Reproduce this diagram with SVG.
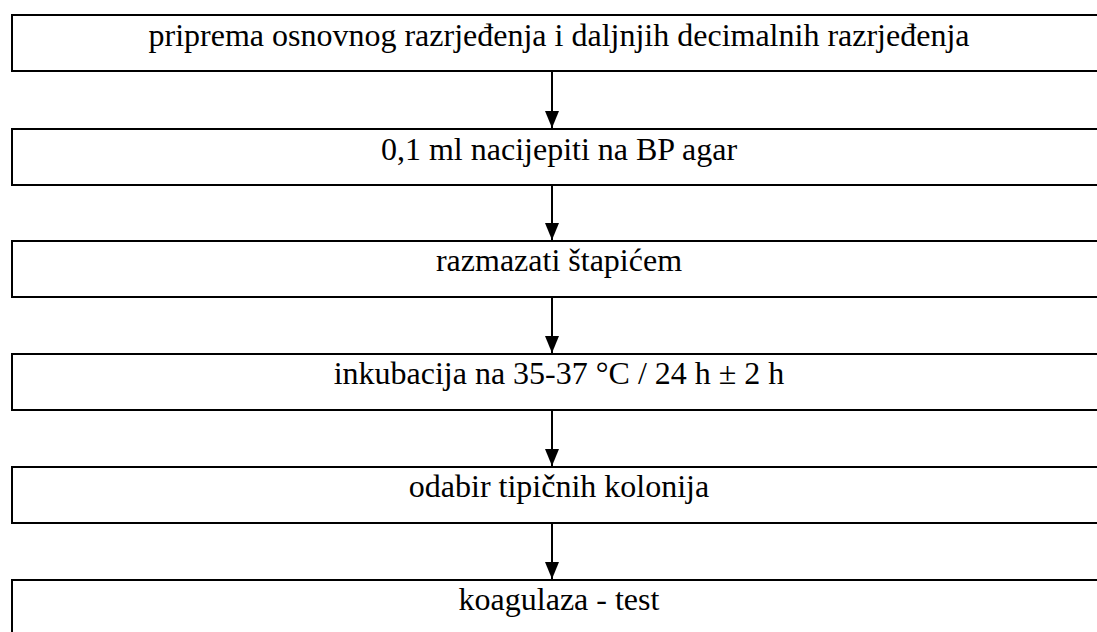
<svg xmlns="http://www.w3.org/2000/svg" width="1097" height="632" viewBox="0 0 1097 632">
  <style>
    .box { fill: #ffffff; stroke: #000000; stroke-width: 2; }
    .lbl { font-size: 32px; fill: #000000; text-anchor: middle; }
    .conn { stroke: #000000; stroke-width: 2; fill: none; marker-end: url(#arrow); }
  </style>
  <defs>
    <marker id="arrow" markerUnits="userSpaceOnUse" markerWidth="17" markerHeight="15" refX="17" refY="7.5" orient="auto" viewBox="0 0 17 15">
      <path d="M0,0.5 L17,7.5 L0,14.5 z" fill="#000000"/>
    </marker>
  </defs>
  <rect x="0" y="0" width="1097" height="632" fill="#ffffff"/>

  <g id="connectors">
    <line class="conn" x1="552" y1="72" x2="552" y2="128"/>
    <line class="conn" x1="552" y1="186" x2="552" y2="240"/>
    <line class="conn" x1="552" y1="298" x2="552" y2="353"/>
    <line class="conn" x1="552" y1="411" x2="552" y2="466"/>
    <line class="conn" x1="552" y1="524" x2="552" y2="579"/>
  </g>

  <g font-family="'Liberation Serif', 'Times New Roman', serif">
  <g id="node1">
    <rect class="box" x="12" y="15" width="1100" height="56"/>
    <text class="lbl" x="559" y="46">priprema osnovnog razrjeđenja i daljnjih decimalnih razrjeđenja</text>
  </g>
  <g id="node2">
    <rect class="box" x="12" y="129" width="1100" height="56"/>
    <text class="lbl" x="559" y="160">0,1 ml nacijepiti na BP agar</text>
  </g>
  <g id="node3">
    <rect class="box" x="12" y="241" width="1100" height="56"/>
    <text class="lbl" x="559" y="271">razmazati štapićem</text>
  </g>
  <g id="node4">
    <rect class="box" x="12" y="354" width="1100" height="56"/>
    <text class="lbl" x="559" y="384">inkubacija na 35-37 °C / 24 h ± 2 h</text>
  </g>
  <g id="node5">
    <rect class="box" x="12" y="467" width="1100" height="56"/>
    <text class="lbl" x="559" y="497">odabir tipičnih kolonija</text>
  </g>
  <g id="node6">
    <rect class="box" x="12" y="580" width="1100" height="56"/>
    <text class="lbl" x="559" y="610">koagulaza - test</text>
  </g>
  </g>
</svg>
